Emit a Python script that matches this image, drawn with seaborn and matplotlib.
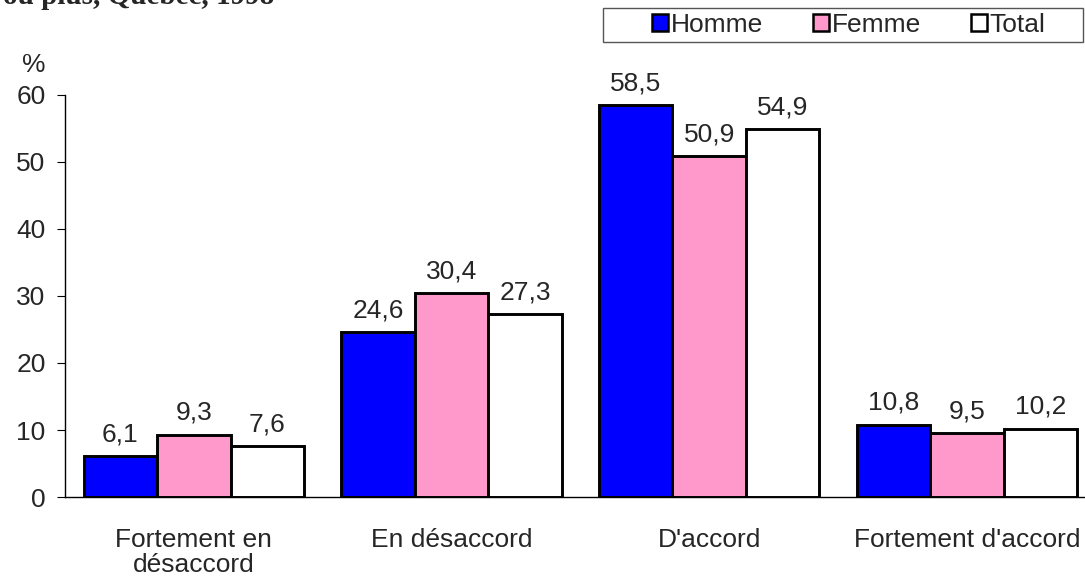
import matplotlib
matplotlib.use("Agg")
import matplotlib.pyplot as plt
import numpy as np
import pandas as pd
import seaborn as sns
from matplotlib.patches import Patch, Rectangle

categories = ["Fortement en\ndésaccord", "En désaccord", "D'accord", "Fortement d'accord"]
series = ["Homme", "Femme", "Total"]
homme = [6.1, 24.6, 58.5, 10.8]
femme = [9.3, 30.4, 50.9, 9.5]
total = [7.6, 27.3, 54.9, 10.2]
yticks = [0, 10, 20, 30, 40, 50, 60]

COLORS = {"Homme": "#0000FF", "Femme": "#FF99CC", "Total": "#FFFFFF"}
FS = 19

df = pd.DataFrame({
    "cat": categories * 3,
    "sexe": ["Homme"] * 4 + ["Femme"] * 4 + ["Total"] * 4,
    "val": homme + femme + total,
})

sns.set_style("white")
plt.rcParams["font.family"] = ["Liberation Sans", "DejaVu Sans"]

fig = plt.figure(figsize=(10.85, 5.79), dpi=100)
ax = fig.add_axes([0.0599, 0.1416, 0.950, 0.6944])

sns.barplot(data=df, x="cat", y="val", hue="sexe", hue_order=series,
            order=categories, palette=COLORS, saturation=1, edgecolor="black",
            linewidth=2.1, width=0.855, ax=ax, legend=False, errorbar=None)

for cont in ax.containers:
    labels = [f"{b.get_height():.1f}".replace(".", ",") for b in cont]
    ax.bar_label(cont, labels=labels, padding=7, fontsize=FS)

ax.set_xlim(-0.5, 3.5)
ax.set_ylim(0, 60)
ax.set_yticks(yticks)
ax.set_xlabel("")
ax.set_ylabel("")
for s in ["top", "right"]:
    ax.spines[s].set_visible(False)
for s in ["left", "bottom"]:
    ax.spines[s].set_color("black")
    ax.spines[s].set_linewidth(1.0)

ax.set_xticks(np.arange(4))
ax.set_xticklabels(categories, fontsize=FS, linespacing=1.05)
ax.set_xticks(np.arange(-0.5, 4.0, 1.0), minor=True)
ax.tick_params(axis="x", which="major", length=0, pad=22)
ax.tick_params(axis="x", which="minor", length=8, direction="out", color="#555555")
ax.tick_params(axis="y", length=6, direction="out", color="black", labelsize=FS, left=True, pad=8)

fig.text(0.031, 0.875, "%", fontsize=FS, ha="center")
# title is cut off at the top edge in the reference
fig.text(0.003, 0.993, "ou plus, Québec, 1998", fontsize=21, fontweight="bold",
         family="Liberation Serif", va="baseline")

# legend box (frame drawn separately to match the wide padding)
fig.patches.append(Rectangle((603 / 1085, 1 - 42 / 579), 480 / 1085, 34 / 579,
                             transform=fig.transFigure, facecolor="white",
                             edgecolor="#555555", linewidth=1.0))
handles = [Patch(facecolor=COLORS[s], edgecolor="black", linewidth=1.8, label=s) for s in series]
fig.legend(handles=handles, loc="center", ncol=3,
           bbox_to_anchor=(849 / 1085, 1 - 25 / 579),
           fontsize=FS, frameon=False,
           handlelength=0.6, handleheight=0.6, handletextpad=0.1,
           borderpad=0.2, columnspacing=1.9, borderaxespad=0)

fig.savefig("out.png", dpi=100)
